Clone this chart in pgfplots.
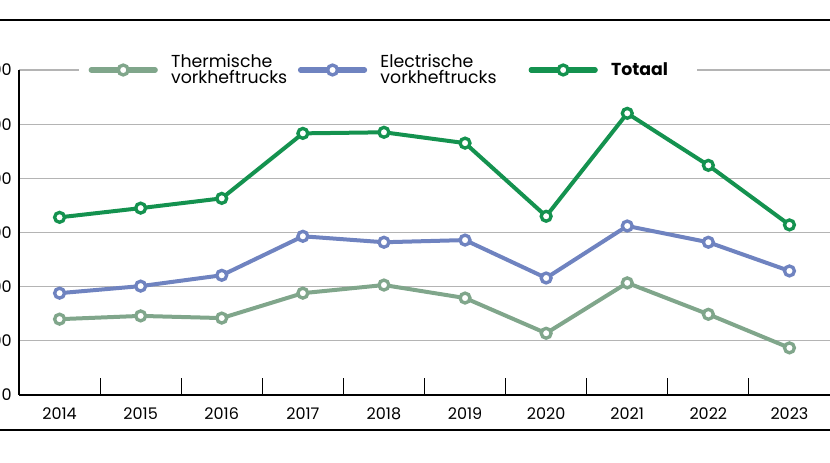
\documentclass[border=0pt]{standalone}
\usepackage{pgfplots}
\pgfplotsset{compat=1.18}
\usepackage{fontspec}
\setmainfont{Poppins}
\definecolor{cTherm}{HTML}{80A68B}
\definecolor{cElec}{HTML}{6F83C0}
\definecolor{cTot}{HTML}{14924F}
\definecolor{cGrid}{HTML}{B4B4B4}
\begin{document}
\begin{tikzpicture}[x=0.75pt,y=0.75pt]
\begin{axis}[
  at={(0,0)}, anchor=south west,
  scale only axis,
  width=608.25pt, height=243.75pt,
  xmin=-0.5, xmax=9.5,
  ymin=0, ymax=6000,
  axis x line*=bottom, axis y line*=left,
  axis line style={black, line width=1.3pt, -},
  xtick={0,...,9},
  xticklabels={2014,2015,2016,2017,2018,2019,2020,2021,2022,2023},
  minor xtick={0.5,1.5,...,8.5},
  minor tick length=12.75pt,
  tick align=inside,
  major x tick style={draw=none},
  minor x tick style={black, line width=0.8pt},
  ytick={0,1000,...,6000},
  yticklabels={0,1000,2000,3000,4000,5000,6000},
  y tick style={draw=none},
  ymajorgrids,
  major grid style={cGrid, line width=0.8pt},
  tick label style={font=\fontsize{12}{14}\selectfont},
  yticklabel style={xshift=-2pt},
  xticklabel style={yshift=-6pt},
  clip=false,
  legend columns=3,
  legend style={at={(rel axis cs:0.074,1)}, anchor=west, draw=none, fill=white,
    font=\fontsize{13}{12.5}\selectfont, nodes={align=left, inner sep=1pt},
    /tikz/every odd column/.append style={column sep=9pt},
    /tikz/every even column/.append style={column sep=7pt},
    inner xsep=7pt, inner ysep=0pt},
  legend image code/.code={%
    \draw[#1, line width=3.9pt, line cap=round, mark=none] (0pt,0pt) -- (48pt,0pt);
    \draw[#1, mark repeat=1] plot coordinates {(24pt,0pt)};
  },
]
\addplot[cTherm, line width=3pt, mark=*, mark size=3.7pt, mark options={fill=white, line width=2.5pt, solid}] coordinates {(0,1400) (1,1460) (2,1420) (3,1880) (4,2030) (5,1790) (6,1140) (7,2070) (8,1490) (9,870)};
\addlegendentry{Thermische\\vorkheftrucks}
\addplot[cElec, line width=3pt, mark=*, mark size=3.7pt, mark options={fill=white, line width=2.5pt, solid}] coordinates {(0,1880) (1,2010) (2,2210) (3,2930) (4,2820) (5,2860) (6,2160) (7,3120) (8,2820) (9,2290)};
\addlegendentry{Electrische\\vorkheftrucks\hspace*{16pt}}
\addplot[cTot, line width=3pt, mark=*, mark size=3.7pt, mark options={fill=white, line width=2.5pt, solid}] coordinates {(0,3280) (1,3450) (2,3630) (3,4830) (4,4850) (5,4650) (6,3300) (7,5200) (8,4240) (9,3140)};
\addlegendentry{\textbf{Totaal}\hspace*{14pt}}
\end{axis}
\draw[black, line width=1.3pt] (-19,375) -- (811,375);
\draw[black, line width=1.3pt] (-19,-35) -- (811,-35);
\pgfresetboundingbox
\useasboundingbox (-19,-68) rectangle (811,395);
\end{tikzpicture}
\end{document}
